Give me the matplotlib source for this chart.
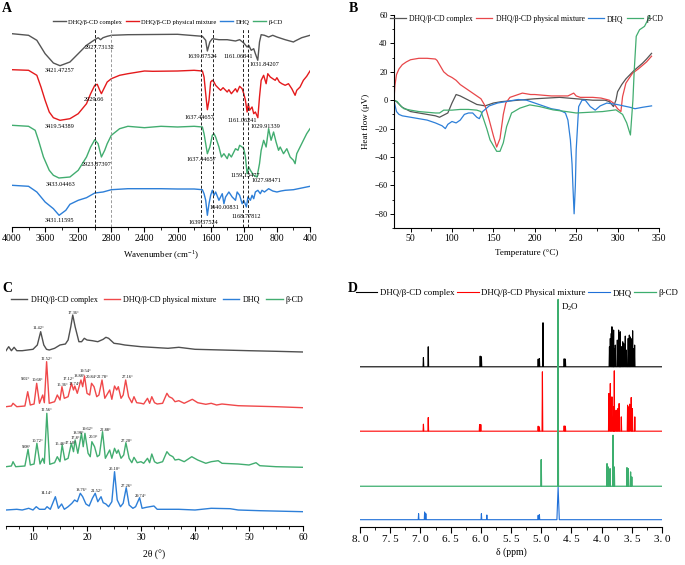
import numpy as np
import matplotlib.pyplot as plt
from matplotlib.ticker import MultipleLocator, FixedLocator, FixedFormatter

plt.rcParams['font.family'] = ['Liberation Serif', 'DejaVu Serif']
plt.rcParams['mathtext.fontset'] = 'custom'
plt.rcParams['mathtext.rm'] = 'Liberation Serif'
plt.rcParams['axes.linewidth'] = 0.8

labels = ['DHQ/β-CD complex', 'DHQ/β-CD physical mixture', 'DHQ', 'β-CD']
labels_nmr = ['DHQ/β-CD complex', 'DHQ/β-CD Physical mixture', 'DHQ', 'β-CD']

# ---------------- A: FTIR (offset transmittance, a.u.) ----------------
ftir_wn_complex = [4000, 3800, 3700, 3600, 3500, 3420, 3300, 3200, 3100, 3000, 2960, 2930, 2900, 2850,
                   2800, 2600, 2000, 1700, 1660, 1640, 1610, 1580, 1500, 1400, 1300, 1250, 1200, 1160,
                   1140, 1110, 1080, 1060, 1031, 1010, 990, 950, 900, 850, 800, 700, 600, 580, 500, 400]
ftir_complex = [193.3, 191.7, 186.7, 173.3, 164.0, 161.3, 165.0, 173.3, 181.7, 187.3, 189.3, 187.3, 189.3,
                190.7, 191.7, 192.3, 192.7, 190.7, 186.7, 176.0, 185.0, 188.3, 187.3, 187.3, 186.0, 187.3,
                184.0, 180.0, 181.7, 176.7, 178.3, 173.3, 166.7, 185.0, 192.3, 191.7, 190.0, 191.7, 190.0,
                187.3, 185.0, 186.0, 189.3, 191.7]

ftir_wn_mix = [4000, 3800, 3700, 3650, 3600, 3550, 3500, 3420, 3300, 3200, 3100, 3050, 3000, 2970, 2940,
               2920, 2880, 2850, 2800, 2700, 2600, 2400, 2300, 2000, 1800, 1700, 1680, 1660, 1640, 1620,
               1600, 1580, 1560, 1540, 1500, 1480, 1450, 1400, 1380, 1350, 1300, 1280, 1250, 1220, 1200,
               1180, 1160, 1145, 1130, 1100, 1080, 1060, 1030, 1010, 990, 960, 930, 910, 880, 850, 820,
               800, 770, 740, 700, 660, 620, 580, 560, 520, 480, 440, 400]
ftir_mix = [157.3, 156.7, 151.7, 140.0, 126.7, 115.0, 109.3, 106.7, 108.3, 113.3, 123.3, 133.3, 141.7, 142.7,
            136.7, 133.3, 140.0, 145.0, 148.3, 151.7, 153.3, 156.0, 155.7, 156.0, 156.7, 156.0, 150.0, 133.3,
            117.3, 126.7, 145.0, 146.7, 145.0, 141.7, 138.3, 136.7, 139.3, 135.0, 137.3, 133.3, 138.3, 135.0,
            140.7, 138.3, 133.3, 126.7, 115.0, 123.3, 116.7, 120.0, 113.3, 115.0, 109.3, 130.0, 146.7, 151.7,
            143.3, 153.3, 150.0, 148.3, 146.7, 149.3, 145.0, 143.3, 141.7, 143.3, 138.3, 131.7, 136.7, 140.0,
            146.7, 150.7, 156.0]

ftir_wn_cd = [4000, 3800, 3720, 3680, 3620, 3550, 3500, 3433, 3300, 3200, 3100, 3050, 3000, 2960, 2920,
              2880, 2850, 2800, 2750, 2700, 2600, 2400, 2200, 2000, 1800, 1700, 1680, 1660, 1640, 1610,
              1580, 1560, 1540, 1500, 1470, 1440, 1400, 1380, 1350, 1300, 1270, 1250, 1220, 1200, 1180,
              1160, 1140, 1120, 1080, 1040, 1010, 990, 960, 930, 900, 870, 840, 810, 780, 760, 720, 680,
              640, 600, 580, 560, 520, 480, 440, 400]
ftir_cd = [101.7, 100.7, 96.7, 86.7, 70.0, 56.7, 51.7, 49.0, 50.0, 56.7, 70.0, 80.0, 87.3, 83.3, 70.0, 76.7,
           83.3, 91.7, 95.0, 98.3, 100.7, 99.3, 100.7, 100.0, 100.7, 100.0, 93.3, 83.3, 73.3, 80.0, 91.7, 93.3,
           90.0, 80.0, 70.0, 73.3, 68.3, 73.3, 70.0, 78.3, 76.7, 81.7, 80.0, 78.3, 70.0, 53.3, 60.0, 56.7,
           51.7, 50.0, 63.3, 76.7, 86.7, 80.0, 98.3, 86.7, 95.0, 85.0, 76.7, 80.0, 73.3, 78.3, 70.0, 66.7,
           63.3, 73.3, 80.0, 86.7, 93.3, 98.3]

ftir_wn_dhq = [4000, 3800, 3700, 3600, 3500, 3431, 3350, 3300, 3200, 3100, 3000, 2900, 2800, 2600, 2200,
               2000, 1800, 1700, 1680, 1660, 1640, 1620, 1600, 1580, 1560, 1540, 1500, 1480, 1460, 1440,
               1420, 1380, 1340, 1300, 1280, 1250, 1220, 1200, 1168, 1150, 1120, 1100, 1080, 1060, 1030,
               1000, 980, 950, 900, 850, 800, 750, 700, 600, 500, 400]
ftir_dhq = [41.7, 40.7, 35.0, 25.0, 18.3, 11.7, 16.7, 22.7, 26.7, 29.3, 34.0, 35.0, 37.3, 38.3, 38.3, 38.0,
            38.0, 37.3, 33.3, 26.7, 11.7, 23.3, 31.7, 36.7, 31.7, 35.0, 26.7, 30.0, 33.3, 23.3, 30.0, 35.0,
            30.0, 26.7, 35.0, 31.7, 23.3, 26.7, 20.0, 30.0, 26.7, 31.7, 28.3, 35.0, 36.7, 33.3, 36.7, 35.0,
            38.3, 36.0, 35.0, 36.0, 36.7, 37.3, 39.0, 40.7]

ftir_marks = [3000, 2800, 1717, 1568, 1205, 1145]
ftir_mark_colors = ['#222222', '#9a9a9a', '#222222', '#222222', '#222222', '#222222']
ftir_mark_top = 198

ftir_notes = ['3421.47257', '2927.73132', '1639.37524', '1161.06341', '1031.84207',
              '2929.66', '3419.54389', '1637.44657', '1161.06241', '1029.91339',
              '2923.87397', '1637.44657', '3433.04463', '1159.13477', '1027.98471',
              '3431.11595', '1640.00831', '1639.37524', '1168.77812']
ftir_note_wn = [3420, 2937, 1700, 1265, 952, 3005, 3428, 1740, 1217, 935,
                2977, 1708, 3412, 1185, 923, 3428, 1440, 1688, 1165]
ftir_note_y = [156.0, 179.3, 170.0, 170.0, 162.3, 127.3, 100.7, 109.3, 106.0, 100.7,
               62.7, 67.3, 42.7, 51.7, 46.7, 6.7, 19.5, 4.5, 10.0]

# ---------------- B: DSC ----------------
dsc_t_complex = [30, 33, 40, 50, 60, 70, 80, 85, 95, 100, 105, 110, 120, 130, 140, 150, 160, 180, 200, 230,
                 250, 270, 285, 290, 295, 298, 300, 305, 310, 315, 320, 330, 335, 341]
dsc_complex = [0, -1, -5, -8, -9, -10, -11, -12, -9, -2, 4, 3, 0, -3, -4, -2, -1, 0, 1, 2,
               1, 0, 0, -1, -4.5, 0, 6, 11, 15, 18, 21, 26, 29, 33]

dsc_t_mix = [30, 31, 33, 36, 40, 45, 50, 60, 70, 80, 82, 85, 90, 95, 100, 105, 110, 120, 130, 135, 140, 145,
             150, 154, 158, 162, 165, 170, 180, 185, 195, 200, 220, 240, 247, 250, 255, 270, 280, 290, 295,
             300, 304, 306, 310, 318, 325, 335, 341]
dsc_mix = [0, 10, 18, 22, 25, 27, 28.5, 29.5, 29.5, 29, 28, 25, 20, 17.5, 16, 14, 11, 7, 3, 1, -4, -14,
           -25, -33, -27, -10, -2, 2, 4, 5, 4, 4, 3, 3, 5, 3, 2, 2, 1.5, 0, -2,
           -6, -8, 2.5, 12, 19, 22, 27, 31]

dsc_t_dhq = [30, 31, 33, 36, 40, 50, 60, 70, 80, 88, 92, 95, 100, 105, 110, 115, 120, 125, 130, 133, 137,
             145, 155, 165, 180, 190, 200, 210, 220, 230, 237, 240, 243, 245, 246, 247.5, 249, 250, 253,
             257, 261, 267, 273, 279, 287, 299, 315, 321, 330, 341]
dsc_dhq = [0, -3, -8, -10, -11, -12, -13, -14, -16, -18, -20, -17, -15, -16, -14, -10, -9, -9, -12, -13, -8,
           -4, -2, -1, 0.5, 0, -2, -4, -6, -7, -9, -14, -28, -45, -60, -80, -60, -35, -4.5,
           0, 0, -4.5, -7, -4, -2, -3, -5, -6, -5, -4]

dsc_t_cd = [30, 34, 38, 42, 50, 60, 70, 80, 85, 90, 100, 110, 120, 130, 135, 138, 142, 146, 150, 154, 158,
            162, 166, 172, 182, 194, 206, 222, 238, 250, 282, 298, 306, 311, 315.5, 318.5, 320, 322.5,
            326.5, 332.5, 336, 339]
dsc_cd = [0, -1, -4, -6, -7, -8, -8.5, -9, -9, -7, -7, -6.5, -6.5, -7, -8, -13, -20, -28, -32, -36, -36,
          -30, -18.6, -9, -5.6, -3.3, -4.5, -6.8, -8, -9, -8, -6.8, -10, -16, -24.5, 0, 20, 45,
          49.6, 52, 56, 60]

# ---------------- C: XRD (offset intensity, a.u.) ----------------
xrd_2t_complex = [5, 5.5, 6, 6.5, 7, 8, 9, 10, 10.8, 11.42, 12, 12.5, 13, 14, 15, 16, 16.5, 17.0, 17.36,
                  17.8, 18.5, 19, 19.5, 20, 21, 22, 23, 23.5, 24, 25, 26, 27, 30, 35, 37, 40, 45, 50, 55, 60]
xrd_complex = [175.3, 179.3, 175.3, 178.7, 175.3, 175.3, 176.0, 176.7, 181.0, 194.3, 181.0, 176.7, 176.0,
               177.7, 181.0, 182.0, 186.0, 199.3, 211.0, 199.3, 184.3, 184.3, 187.7, 186.0, 185.3, 184.3,
               186.7, 188.7, 187.7, 182.7, 182.0, 181.0, 179.3, 177.7, 178.7, 176.7, 176.0, 175.3, 174.7, 174.0]

xrd_2t_mix = [5, 6, 6.3, 7, 8.5, 9.02, 9.5, 10.2, 10.68, 11.2, 11.8, 12.1, 12.52, 13, 14, 14.5, 15, 15.36,
              15.8, 16.5, 17.12, 17.5, 17.74, 18.2, 18.88, 19.2, 19.54, 20, 20.5, 20.84, 21.3, 21.8, 22.2,
              22.78, 23.3, 24.2, 24.6, 25.1, 25.5, 25.8, 26.3, 26.7, 27.16, 27.7, 28.3, 28.7, 29.2, 30.0,
              30.5, 31.2, 31.6, 32, 32.5, 33, 34, 34.8, 35.2, 35.8, 36.3, 37, 38, 39.5, 40.5, 42, 43, 44,
              45, 48, 50, 55, 60]
xrd_mix = [119.3, 120.0, 122.7, 119.3, 120.0, 134.3, 121.0, 122.0, 142.7, 122.7, 131.0, 123.3, 164.3, 122.7,
           124.3, 131.0, 126.0, 139.3, 127.7, 129.3, 142.7, 136.0, 140.0, 132.7, 146.0, 139.3, 150.0, 132.7,
           131.0, 142.7, 139.3, 129.3, 131.0, 146.0, 127.7, 136.0, 126.7, 140.0, 136.0, 139.3, 127.7, 131.0,
           146.0, 129.3, 123.3, 129.3, 123.3, 122.7, 122.0, 127.7, 122.7, 129.3, 123.3, 122.0, 122.7, 132.7,
           129.3, 127.7, 124.3, 125.3, 122.7, 126.7, 123.3, 121.7, 122.7, 121.0, 122.0, 120.3, 120.0, 119.3,
           118.3]

xrd_2t_cd = [5, 6, 6.3, 6.8, 8.5, 9.08, 9.5, 10.2, 10.72, 11.3, 11.8, 12.1, 12.56, 13.1, 14, 14.5, 15, 15.4,
             15.9, 16.5, 17.1, 17.5, 17.8, 18.3, 18.98, 19.3, 19.62, 20.2, 20.6, 20.9, 21.4, 21.9, 22.3,
             22.88, 23.4, 24.2, 24.6, 25.1, 25.5, 25.8, 26.3, 26.8, 27.2, 27.8, 28.3, 28.7, 29.3, 30, 30.5,
             31.2, 31.6, 32, 32.5, 33, 34, 34.8, 35.3, 35.9, 36.3, 37, 38, 39.4, 40.5, 42, 43, 44.3, 45, 48,
             50, 51.3, 52, 55, 60]
xrd_cd = [59.3, 60.0, 64.3, 59.3, 60.0, 76.7, 61.0, 62.0, 82.7, 62.0, 67.7, 62.7, 112.7, 61.7, 63.3, 69.3,
          64.3, 81.0, 66.0, 67.7, 82.7, 74.3, 86.0, 72.7, 92.7, 79.3, 92.7, 72.7, 69.3, 84.3, 79.3, 69.3,
          71.0, 94.3, 67.7, 76.0, 67.7, 77.7, 72.7, 76.0, 67.7, 71.0, 83.3, 67.7, 63.3, 68.7, 63.3, 64.3,
          62.7, 67.7, 63.3, 72.0, 64.3, 62.7, 64.3, 74.3, 71.0, 69.3, 66.0, 66.7, 64.3, 69.3, 66.0, 62.7,
          64.3, 65.3, 62.7, 62.0, 61.0, 63.3, 60.3, 59.3, 58.7]

xrd_2t_dhq = [5, 7, 8, 9.2, 10, 10.6, 11.2, 12.2, 12.6, 13.2, 14.14, 14.7, 15.3, 15.8, 16.5, 17.2, 17.7,
              18.2, 18.76, 19.2, 19.8, 20.4, 21.0, 21.52, 22, 22.6, 23, 23.5, 24.0, 24.6, 25.1, 25.6, 26.2,
              26.7, 27.26, 27.8, 28.5, 29.0, 29.74, 30.2, 31, 32.4, 33, 35, 37, 40, 43, 46.5, 48, 52, 60]
xrd_dhq = [16.0, 16.7, 16.0, 17.7, 16.0, 19.3, 16.7, 16.7, 19.3, 16.7, 29.3, 17.7, 22.0, 16.7, 19.3, 22.7,
           26.0, 24.3, 32.7, 29.3, 22.0, 20.0, 27.7, 32.7, 24.3, 29.3, 23.3, 22.0, 19.3, 24.3, 54.3, 26.0,
           19.3, 22.7, 38.3, 21.0, 17.7, 19.3, 28.3, 17.7, 18.7, 20.0, 16.7, 16.7, 16.7, 16.0, 17.7, 17.3,
           16.0, 15.3, 14.3]

xrd_notes = ['11.42°', '17.36°', '12.52°', '9.02°', '10.68°', '15.36°', '17.12°', '17.74°', '18.88°',
             '19.54°', '20.84°', '22.78°', '27.16°', '12.56°', '9.08°', '10.72°', '15.46°', '17.10°',
             '17.8°', '18.98°', '19.62°', '20.9°', '22.88°', '27.20°', '14.14°', '18.76°', '21.52°',
             '25.10°', '27.26°', '29.74°']
xrd_note_2t = [11.0, 17.48, 12.53, 8.7, 10.8, 15.5, 16.6, 17.6, 18.5, 19.64, 20.9, 22.86, 27.55, 12.53,
               8.83, 10.87, 15.0, 16.9, 17.9, 18.4, 20.1, 21.2, 23.4, 27.37, 12.45, 18.9, 21.8, 25.2,
               27.37, 29.96]
xrd_note_y = [197.7, 213.3, 167.0, 147.0, 146.0, 141.0, 146.7, 142.0, 150.0, 154.7, 148.7, 148.7, 148.7,
              116.0, 79.3, 85.0, 82.0, 83.5, 88.0, 93.5, 97.0, 89.0, 96.0, 85.0, 33.5, 36.0, 34.7,
              56.7, 40.0, 30.0]

# ---------------- D: 1H NMR (peak lists, offset a.u.) ----------------
nmr_complex_base = 160.0
nmr_complex_ppm = [6.95, 6.87, 6.01, 5.99, 5.05, 5.03, 4.97, 4.72, 4.62, 4.60,
                   3.87, 3.856, 3.84, 3.829, 3.81, 3.801, 3.79, 3.773, 3.74, 3.718, 3.70, 3.691, 3.67,
                   3.65, 3.635, 3.62, 3.608, 3.59, 3.56, 3.541, 3.53, 3.514, 3.50, 3.486, 3.47, 3.453]
nmr_complex_h = [169.3, 180.0, 170.7, 170.0, 167.7, 168.3, 204.0, 166.7, 168.0, 167.7,
                 180.0, 188.3, 193.3, 200.0, 190.0, 196.7, 178.3, 181.7, 186.7, 196.7, 191.7, 195.0, 180.0,
                 185.0, 183.3, 178.3, 190.7, 176.7, 188.3, 191.7, 190.0, 188.3, 185.0, 196.0, 178.3, 181.7]

nmr_mix_base = 95.7
nmr_mix_ppm = [6.95, 6.87, 6.02, 6.00, 5.05, 5.03, 4.98, 4.72, 4.62, 4.60,
               3.88, 3.856, 3.829, 3.80, 3.79, 3.76, 3.73, 3.71, 3.674, 3.57, 3.55, 3.536, 3.51, 3.49, 3.45]
nmr_mix_h = [102.7, 109.3, 102.3, 102.3, 100.7, 100.0, 155.0, 100.0, 101.0, 100.7,
             133.3, 143.3, 130.0, 120.0, 156.0, 116.7, 118.3, 123.3, 110.0, 121.7, 120.0, 122.7, 129.3,
             118.3, 110.0]

nmr_cd_base = 40.7
nmr_cd_ppm = [5.00, 4.72, 3.91, 3.89, 3.86, 3.81, 3.79, 3.58, 3.56, 3.52, 3.50]
nmr_cd_h = [67.3, 227.3, 63.3, 60.0, 58.3, 91.7, 60.0, 59.3, 58.3, 55.0, 50.0]

nmr_dhq_base = 7.3
nmr_dhq_ppm = [7.03, 6.93, 6.91, 5.99, 5.90, 5.05, 5.03, 4.72]
nmr_dhq_h = [13.3, 15.0, 13.3, 13.3, 12.0, 11.7, 12.3, 40.0]

nmr_ticks = [8.0, 7.5, 7.0, 6.5, 6.0, 5.5, 5.0, 4.5, 4.0, 3.5, 3.0]
nmr_tick_labels = ['8. 0', '7. 5', '7. 0', '6. 5', '6. 0', '5. 5', '5. 0', '4. 5', '4. 0', '3. 5', '3. 0']


def spectrum(ppm, h, base, w=0.006, wide=()):
    xs, ys = [8.0], [base]
    for p, t in sorted(zip(ppm, h), reverse=True):
        ww = 0.02 if p in wide else w
        xs += [p + ww, p, p - ww]
        ys += [base, t, base]
    xs.append(3.0)
    ys.append(base)
    return xs, ys


W, H = 685, 565


def box(l, t, r, b):
    return [l / W, 1 - b / H, (r - l) / W, (b - t) / H]


fig = plt.figure(figsize=(W / 100, H / 100), dpi=100)

# ---- A
colA = ['#555555', '#e41a1c', '#2d7fd8', '#42ad70']
axA = fig.add_axes(box(12, 15, 310, 227))
axA.plot(ftir_wn_complex, ftir_complex, color=colA[0], lw=1.0, label=labels[0])
axA.plot(ftir_wn_mix, ftir_mix, color=colA[1], lw=1.0, label=labels[1])
axA.plot(ftir_wn_dhq, ftir_dhq, color=colA[2], lw=1.0, label=labels[2])
axA.plot(ftir_wn_cd, ftir_cd, color=colA[3], lw=1.0, label=labels[3])
axA.vlines(ftir_marks, 0, ftir_mark_top, colors=ftir_mark_colors, linestyles=(0, (3, 2)), lw=0.7)
for s, x, y in zip(ftir_notes, ftir_note_wn, ftir_note_y):
    axA.text(x, y, s, fontsize=4.5, ha='center', va='center')
axA.set_xlim(4000, 400)
axA.set_ylim(0, 212)
for s in ['left', 'right', 'top']:
    axA.spines[s].set_visible(False)
axA.set_yticks([])
axA.xaxis.set_major_locator(MultipleLocator(400))
axA.xaxis.set_minor_locator(MultipleLocator(200))
axA.tick_params(axis='x', which='major', length=3.5, width=0.8, labelsize=7, pad=1.5)
axA.tick_params(axis='x', which='minor', length=2, width=0.6)
axA.set_xlabel('Wavenumber (cm$^{-1}$)', fontsize=6.5, labelpad=4)
axA.legend(ncol=4, loc='center', bbox_to_anchor=(0.523, 0.967), fontsize=4.7, frameon=False,
           handlelength=2.0, handletextpad=0.3, columnspacing=0.6, borderpad=0)

# ---- B
colB = ['#555555', '#e8474a', '#2d7fd8', '#42ad70']
axB = fig.add_axes(box(394, 15, 659, 228))
axB.plot(dsc_t_complex, dsc_complex, color=colB[0], lw=0.9, label=labels[0])
axB.plot(dsc_t_mix, dsc_mix, color=colB[1], lw=0.9, label=labels[1])
axB.plot(dsc_t_dhq, dsc_dhq, color=colB[2], lw=0.9, label=labels[2])
axB.plot(dsc_t_cd, dsc_cd, color=colB[3], lw=0.9, label=labels[3])
axB.set_xlim(30, 350)
axB.set_ylim(-90, 60)
for s in ['right', 'top']:
    axB.spines[s].set_visible(False)
axB.xaxis.set_major_locator(MultipleLocator(50))
axB.xaxis.set_minor_locator(MultipleLocator(25))
axB.yaxis.set_major_locator(MultipleLocator(20))
axB.yaxis.set_minor_locator(MultipleLocator(10))
axB.set_xticks([50, 100, 150, 200, 250, 300, 350])
axB.tick_params(which='major', length=3, width=0.7, pad=1.5)
axB.tick_params(which='minor', length=1.8, width=0.6)
axB.tick_params(axis='x', labelsize=7)
axB.tick_params(axis='y', labelsize=6)
axB.set_xlabel('Temperature (°C)', fontsize=6.5, labelpad=4)
axB.set_ylabel('Heat flow (μV)', fontsize=6.5, labelpad=3)
axB.legend(ncol=4, loc='center', bbox_to_anchor=(0.5, 0.981), fontsize=5.5, frameon=False,
           handlelength=2.1, handletextpad=0.45, columnspacing=0.4, borderpad=0)

# ---- C
colC = ['#505050', '#f0484a', '#2d7fd8', '#42ad70']
axC = fig.add_axes(box(6, 292, 303, 526))
axC.plot(xrd_2t_complex, xrd_complex, color=colC[0], lw=1.0, label=labels[0])
axC.plot(xrd_2t_mix, xrd_mix, color=colC[1], lw=1.0, label=labels[1])
axC.plot(xrd_2t_dhq, xrd_dhq, color=colC[2], lw=1.0, label=labels[2])
axC.plot(xrd_2t_cd, xrd_cd, color=colC[3], lw=1.0, label=labels[3])
for s, x, y in zip(xrd_notes, xrd_note_2t, xrd_note_y):
    axC.text(x, y, s, fontsize=3.2, ha='center', va='center')
axC.set_xlim(5, 60)
axC.set_ylim(0, 234)
for s in ['left', 'right', 'top']:
    axC.spines[s].set_visible(False)
axC.set_yticks([])
axC.xaxis.set_major_locator(MultipleLocator(10))
axC.xaxis.set_minor_locator(MultipleLocator(2.5))
axC.tick_params(axis='x', which='major', length=3.5, width=0.8, labelsize=7, pad=1.5)
axC.tick_params(axis='x', which='minor', length=2, width=0.6)
axC.set_xlabel('2θ (°)', fontsize=7, labelpad=6)
axC.legend(ncol=4, loc='center', bbox_to_anchor=(0.51, 0.966), fontsize=5.8, frameon=False,
           handlelength=2.0, handletextpad=0.4, columnspacing=0.8, borderpad=0)

# ---- D
colD = ['#000000', '#ff0000', '#1f6fd8', '#3cae6e']
axD = fig.add_axes(box(360, 285, 662, 527))
axD.plot(*spectrum(nmr_complex_ppm, nmr_complex_h, nmr_complex_base), color=colD[0], lw=0.8,
         label=labels_nmr[0])
axD.plot(*spectrum(nmr_mix_ppm, nmr_mix_h, nmr_mix_base), color=colD[1], lw=0.8, label=labels_nmr[1])
axD.plot(*spectrum(nmr_dhq_ppm, nmr_dhq_h, nmr_dhq_base, wide=(4.72,)), color=colD[2], lw=0.8,
         label=labels_nmr[2])
axD.plot(*spectrum(nmr_cd_ppm, nmr_cd_h, nmr_cd_base), color=colD[3], lw=0.9, label=labels_nmr[3])
axD.text(4.67, 219, 'D$_2$O', fontsize=6.5, ha='left', va='center')
axD.set_xlim(8.0, 3.0)
axD.set_ylim(0, 241.7)
for s in ['left', 'right', 'top']:
    axD.spines[s].set_visible(False)
axD.set_yticks([])
axD.xaxis.set_major_locator(FixedLocator(nmr_ticks))
axD.xaxis.set_major_formatter(FixedFormatter(nmr_tick_labels))
axD.xaxis.set_minor_locator(MultipleLocator(0.25))
axD.tick_params(axis='x', which='major', length=4, width=0.8, labelsize=8, pad=1.5)
axD.tick_params(axis='x', which='minor', length=2.5, width=0.6)
axD.set_xlabel('δ (ppm)', fontsize=7, labelpad=3)
axD.legend(ncol=4, loc='center', bbox_to_anchor=(0.52, 0.967), fontsize=6.4, frameon=False,
           handlelength=2.4, handletextpad=0.3, columnspacing=0.3, borderpad=0)

for t, x, y in [('A', 7, 9), ('B', 353, 9), ('C', 7, 289), ('D', 353, 289)]:
    fig.text(x / W, 1 - y / H, t, fontsize=10, fontweight='bold', ha='center', va='center')

fig.savefig('out.png', dpi=100)
